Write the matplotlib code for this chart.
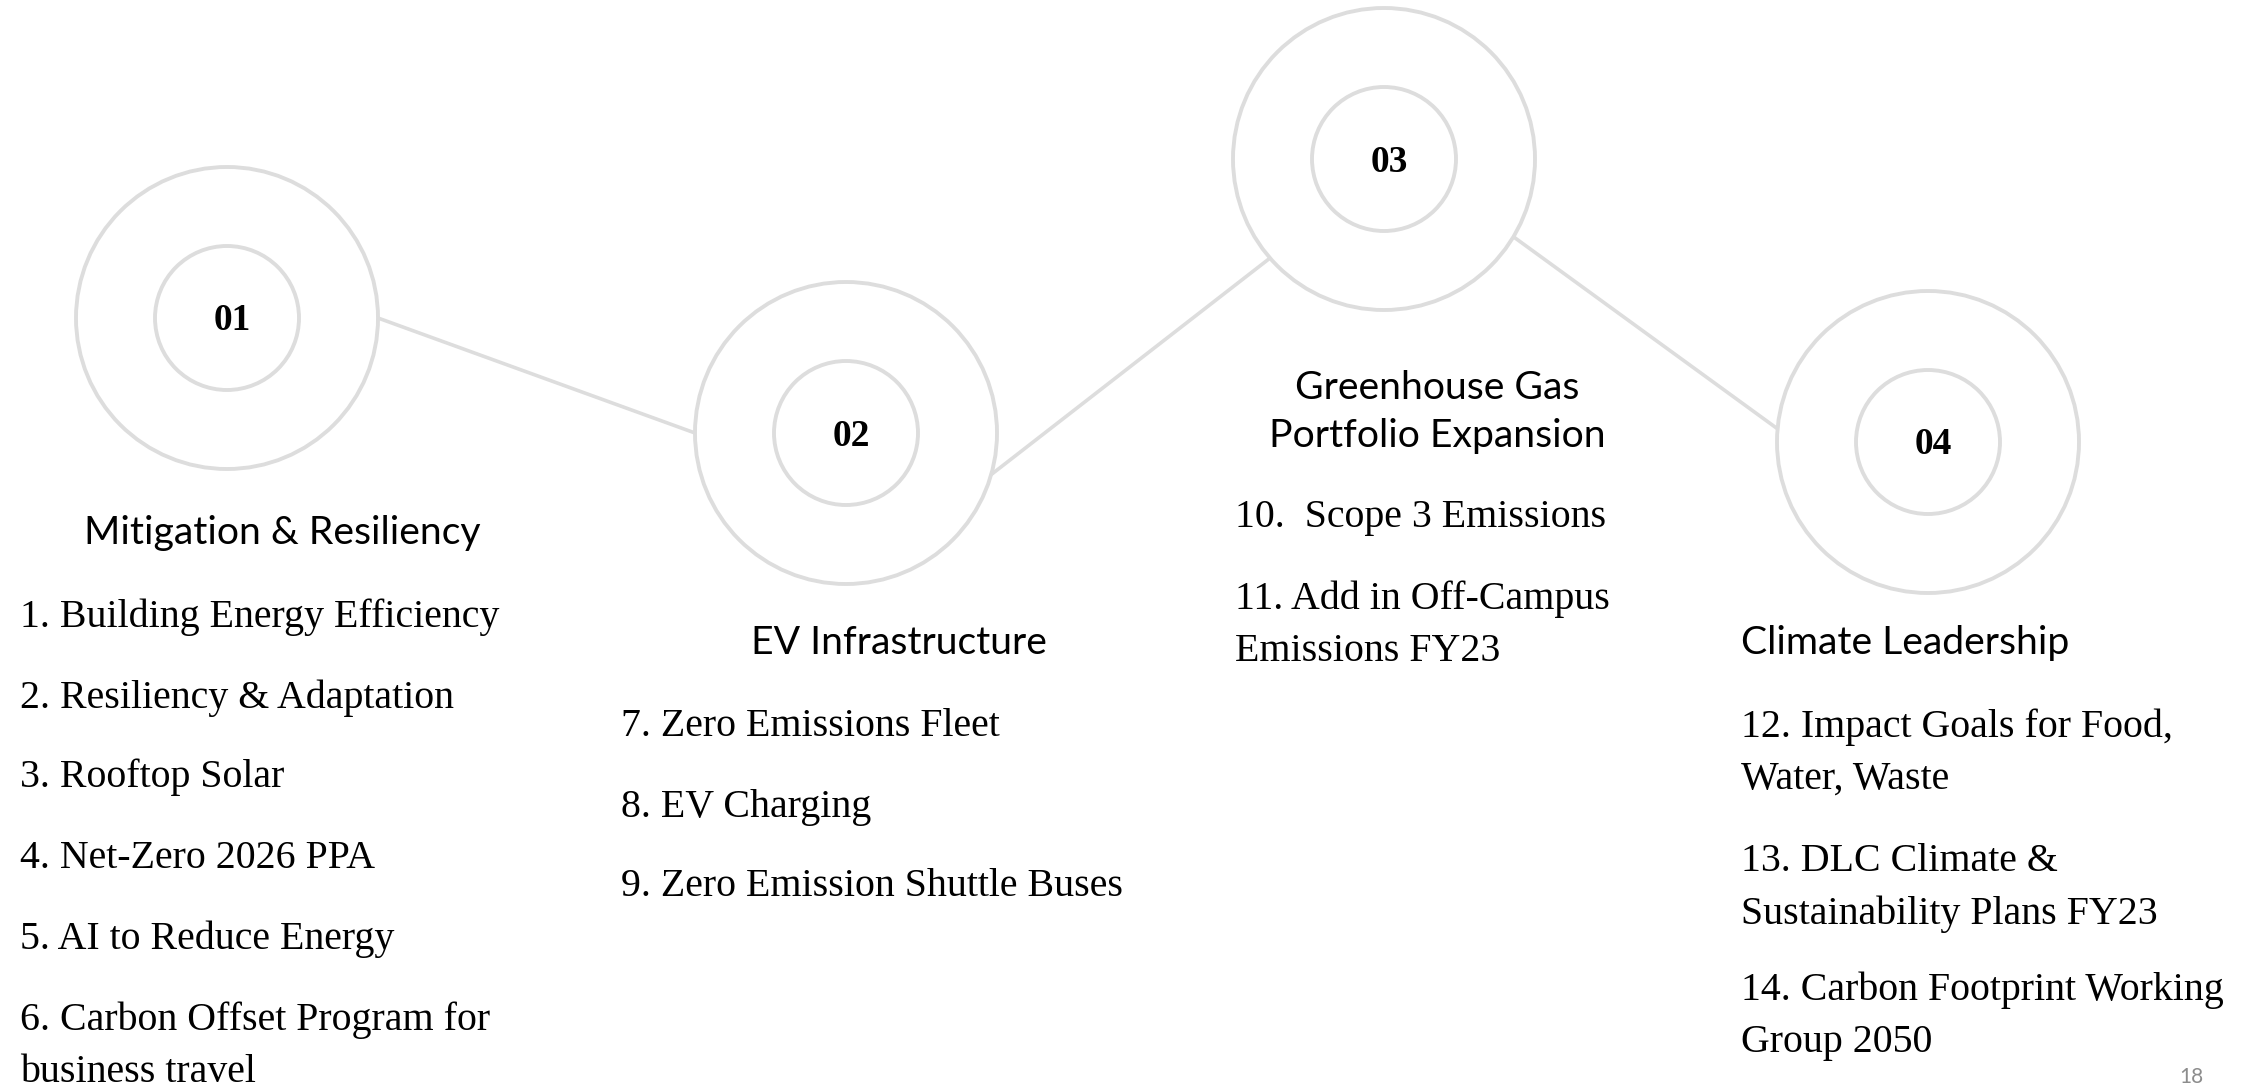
import matplotlib
matplotlib.use("Agg")
import matplotlib.pyplot as plt
from matplotlib.patches import Circle
import numpy as np

# ---- data ----
step_labels = ["01", "02", "03", "04"]
headings = ["Mitigation & Resiliency", "EV Infrastructure",
            "Greenhouse Gas\nPortfolio Expansion", "Climate Leadership"]
items_1 = ["1. Building Energy Efficiency", "2. Resiliency & Adaptation",
           "3. Rooftop Solar", "4. Net-Zero 2026 PPA", "5. AI to Reduce Energy",
           "6. Carbon Offset Program for\nbusiness travel"]
items_2 = ["7. Zero Emissions Fleet", "8. EV Charging",
           "9. Zero Emission Shuttle Buses"]
items_3 = ["10.  Scope 3 Emissions", "11. Add in Off-Campus\nEmissions FY23"]
items_4 = ["12. Impact Goals for Food,\nWater, Waste",
           "13. DLC Climate &\nSustainability Plans FY23",
           "14. Carbon Footprint Working\nGroup 2050"]
page_number = "18"

# ---- layout (pixel space, y downward) ----
W, H = 2265, 1088
centers = [(227, 318), (846, 433), (1384, 159), (1928, 442)]
r_out, r_in = 151, 72
# connector endpoints as angles (deg) on outer circles
connectors = [(0, 1, 0, 180), (1, 2, 16, 139), (2, 3, 31, 185)]

head_pos = [(282, 533, "center"), (899, 643, "center"), (1437, 412, "center"), (1741, 643, "left")]
item_x = [20, 621, 1235, 1741]
item_y = [[617, 698, 777, 858, 939, 1046],
          [727, 807, 887],
          [517, 625],
          [753, 888, 1016]]
all_items = [items_1, items_2, items_3, items_4]

gray = "#dddddd"
serif = "Liberation Serif"
sans = "Lato"

fig = plt.figure(figsize=(W / 100, H / 100), dpi=100)
ax = fig.add_axes([0, 0, 1, 1])
ax.set_xlim(0, W)
ax.set_ylim(H, 0)
ax.axis("off")

for (i, j, a1, a2) in connectors:
    x1 = centers[i][0] + r_out * np.cos(np.radians(a1))
    y1 = centers[i][1] + r_out * np.sin(np.radians(a1))
    x2 = centers[j][0] + r_out * np.cos(np.radians(a2))
    y2 = centers[j][1] + r_out * np.sin(np.radians(a2))
    ax.plot([x1, x2], [y1, y2], color=gray, lw=2.6, solid_capstyle="butt", zorder=1)

for (cx, cy), lab in zip(centers, step_labels):
    ax.add_patch(Circle((cx, cy), r_out, facecolor="none", edgecolor=gray, lw=2.8, zorder=2))
    ax.add_patch(Circle((cx, cy), r_in, facecolor="none", edgecolor=gray, lw=2.8, zorder=2))
    ax.text(cx + 5, cy + 3, lab, family=serif, weight="bold", fontsize=27,
            ha="center", va="center", color="black")

for (hx, hy, ha), h in zip(head_pos, headings):
    ax.text(hx, hy, h, family=sans, fontsize=28.2, ha=ha, va="center",
            color="black", linespacing=1.4, multialignment="center")

for x, ys, its in zip(item_x, item_y, all_items):
    for y, t in zip(ys, its):
        ax.text(x, y, t, family=serif, fontsize=28.7, ha="left", va="center",
                color="black", linespacing=1.55)

ax.text(2191, 1077, page_number, family=sans, fontsize=15, color="#8c8c8c",
        ha="center", va="center")

fig.savefig("out.png", dpi=100)
